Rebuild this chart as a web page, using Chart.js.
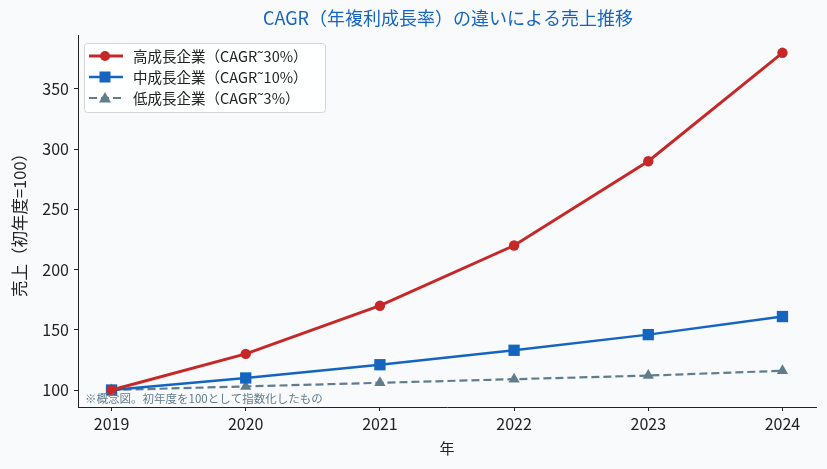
<!DOCTYPE html>
<html>
<head>
<meta charset="utf-8">
<script src="https://cdn.jsdelivr.net/npm/chart.js@4"></script>
<style>
  html, body { margin: 0; padding: 0; background: #f8fafc; }
  #wrap { width: 827px; height: 469px; }
</style>
</head>
<body>
<div id="wrap"><canvas id="c" width="827" height="469"></canvas></div>
<script>
const years = [2019, 2020, 2021, 2022, 2023, 2024];
const highGrowth = [100, 130, 170, 220, 290, 380];
const midGrowth = [100, 110, 121, 133, 146, 161];
const lowGrowth = [100, 103, 106, 109, 112, 116];
const yTicks = [100, 150, 200, 250, 300, 350];

const seriesNames = ['高成長企業（CAGR˜30%）', '中成長企業（CAGR˜10%）', '低成長企業（CAGR˜3%）'];
const FONT = '"Noto Sans CJK JP", "Noto Sans", sans-serif';

function pts(vals) {
    return years.map((y, i) => ({ x: y, y: vals[i] }));
}

// タイトル・凡例・注記
const extras = {
    id: 'extras',
    afterDraw(chart) {
        const ctx = chart.ctx;
        const area = chart.chartArea;
        ctx.save();

        // タイトル
        ctx.fillStyle = '#1565c0';
        ctx.font = '18px ' + FONT;
        ctx.textAlign = 'center';
        ctx.textBaseline = 'middle';
        ctx.fillText('CAGR（年複利成長率）の違いによる売上推移', (area.left + area.right) / 2 + 1, 18);

        // 注記
        ctx.fillStyle = '#607d8b';
        ctx.font = '11.5px ' + FONT;
        ctx.textAlign = 'left';
        ctx.textBaseline = 'middle';
        ctx.fillText('※概念図。初年度を100として指数化したもの', area.left + 7, 399);

        // 凡例
        const bx = 84, by = 43, bw = 241, bh = 69;
        ctx.fillStyle = 'rgba(255,255,255,0.85)';
        ctx.strokeStyle = '#d4d4d4';
        ctx.lineWidth = 1;
        ctx.beginPath();
        ctx.roundRect(bx + 0.5, by + 0.5, bw, bh, 3);
        ctx.fill();
        ctx.stroke();

        chart.data.datasets.forEach((ds, i) => {
            const yy = by + 13 + i * 21;
            ctx.strokeStyle = ds.borderColor;
            ctx.lineWidth = ds.borderWidth;
            ctx.setLineDash(ds.borderDash || []);
            ctx.beginPath();
            ctx.moveTo(bx + 5, yy);
            ctx.lineTo(bx + 39, yy);
            ctx.stroke();
            ctx.setLineDash([]);
            ctx.fillStyle = ds.borderColor;
            const mx = bx + 21;
            if (ds.pointStyle === 'circle') {
                ctx.beginPath();
                ctx.arc(mx, yy, 5, 0, Math.PI * 2);
                ctx.fill();
            } else if (ds.pointStyle === 'rect') {
                ctx.fillRect(mx - 5.5, yy - 5.5, 11, 11);
            } else {
                ctx.beginPath();
                ctx.moveTo(mx, yy - 6);
                ctx.lineTo(mx + 6, yy + 4.5);
                ctx.lineTo(mx - 6, yy + 4.5);
                ctx.closePath();
                ctx.fill();
            }
            ctx.fillStyle = '#222';
            ctx.font = '14.5px ' + FONT;
            ctx.textAlign = 'left';
            ctx.fillText(ds.label, bx + 49, yy);
        });
        ctx.restore();
    }
};

new Chart(document.getElementById('c'), {
    type: 'line',
    data: {
        datasets: [
            {
                label: seriesNames[0],
                data: pts(highGrowth),
                borderColor: '#c62828',
                backgroundColor: '#c62828',
                borderWidth: 3,
                pointStyle: 'circle',
                pointRadius: 5.2,
                pointHoverRadius: 5.2,
                pointBorderWidth: 0
            },
            {
                label: seriesNames[1],
                data: pts(midGrowth),
                borderColor: '#1565c0',
                backgroundColor: '#1565c0',
                borderWidth: 2.5,
                pointStyle: 'rect',
                pointRadius: 8,
                pointHoverRadius: 8,
                pointBorderWidth: 0
            },
            {
                label: seriesNames[2],
                data: pts(lowGrowth),
                borderColor: '#607d8b',
                backgroundColor: '#607d8b',
                borderWidth: 2.2,
                borderDash: [8, 4],
                pointStyle: 'triangle',
                pointRadius: 6.5,
                pointHoverRadius: 6.5,
                pointBorderWidth: 0
            }
        ]
    },
    options: {
        responsive: false,
        animation: false,
        layout: { padding: { top: 35, right: 11, left: 0, bottom: 0 } },
        plugins: {
            legend: { display: false },
            title: { display: false },
            tooltip: { enabled: false }
        },
        scales: {
            x: {
                type: 'linear',
                min: 2018.75,
                max: 2024.25,
                afterBuildTicks: s => { s.ticks = years.map(v => ({ value: v })); },
                afterFit: s => { s.height = 62; },
                grid: { drawOnChartArea: false, drawTicks: true, tickLength: 4, color: '#222' },
                border: { display: true, color: '#222', width: 1 },
                ticks: {
                    color: '#222',
                    font: { family: FONT, size: 16 },
                    padding: 3,
                    maxRotation: 0,
                    callback: v => String(v)
                },
                title: {
                    display: true,
                    text: '年',
                    color: '#222',
                    font: { family: FONT, size: 15 },
                    padding: { top: 0, bottom: 12 }
                }
            },
            y: {
                min: 85.9,
                max: 394.8,
                afterBuildTicks: s => { s.ticks = yTicks.map(v => ({ value: v })); },
                afterFit: s => { s.width = 78; },
                grid: { drawOnChartArea: false, drawTicks: true, tickLength: 4, color: '#222' },
                border: { display: true, color: '#222', width: 1 },
                ticks: {
                    color: '#222',
                    font: { family: FONT, size: 16 },
                    padding: 5
                },
                title: {
                    display: true,
                    text: '売上（初年度=100）',
                    color: '#222',
                    font: { family: FONT, size: 16.5 },
                    padding: { top: 10, bottom: 0 }
                }
            }
        }
    },
    plugins: [extras]
});
</script>
</body>
</html>
